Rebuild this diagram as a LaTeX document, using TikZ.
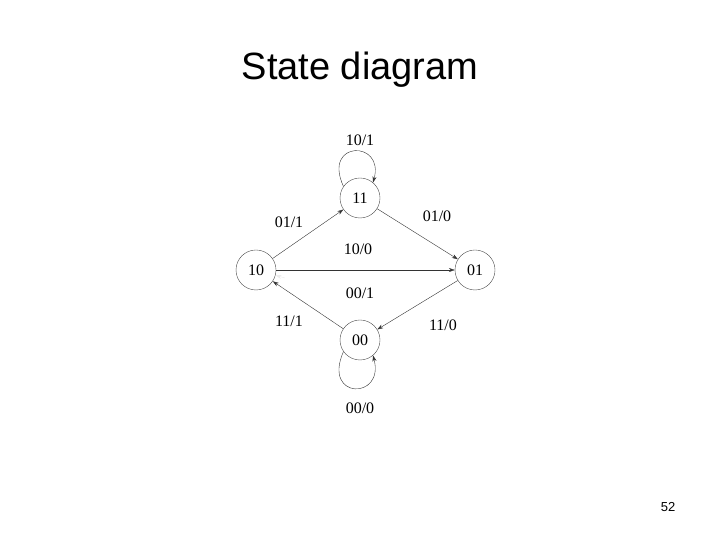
\documentclass[tikz,border=0pt]{standalone}
\usepackage{fontspec}
\setmainfont{Liberation Serif}
\newfontfamily\arial{Liberation Sans}
\usetikzlibrary{arrows.meta}
\begin{document}
\begin{tikzpicture}[x=1pt,y=1pt,
  st/.style={circle,draw=black!70,line width=0.4pt,minimum size=40pt,inner sep=0pt,font=\fontsize{16}{16}\selectfont},
  lab/.style={font=\fontsize{16}{16}\selectfont},
  ed/.style={draw=black!80,line width=0.4pt,-{Stealth[length=6pt,width=4pt]}}]
\useasboundingbox (0,0) rectangle (720,540);
\node[font=\arial\fontsize{38}{38}\selectfont] (title) at (360,470) {State diagram};
\node[font=\arial\fontsize{13}{13}\selectfont] (pg) at (668,33) {52};
\node[st] (s11) at (360,342) {11};
\node[st] (s10) at (256,270) {10};
\node[st] (s01) at (475,270) {01};
\node[st] (s00) at (360,200) {00};
\draw[ed] (s10) -- (s11);
\draw[ed] (s11) -- (s01);
\draw[ed] (s10) -- (s01);
\draw[ed] (s01) -- (s00);
\draw[ed] (s00) -- (s10);
\coordinate (c001) at (285,262);
\draw[ed,draw=black!8] (c001) -- (s10);
\draw[ed] (s11.145) .. controls (322,400) and (385,400) .. (s11.50);
\draw[ed] (s00.215) .. controls (322,140) and (385,140) .. (s00.310);
\node[lab] (l1) at (360,400) {10/1};
\node[lab] (l2) at (289,318) {01/1};
\node[lab] (l3) at (437,324) {01/0};
\node[lab] (l4) at (358,291) {10/0};
\node[lab] (l5) at (360,247) {00/1};
\node[lab] (l6) at (289,219) {11/1};
\node[lab] (l7) at (443,215) {11/0};
\node[lab] (l8) at (360,132) {00/0};
\end{tikzpicture}
\end{document}
